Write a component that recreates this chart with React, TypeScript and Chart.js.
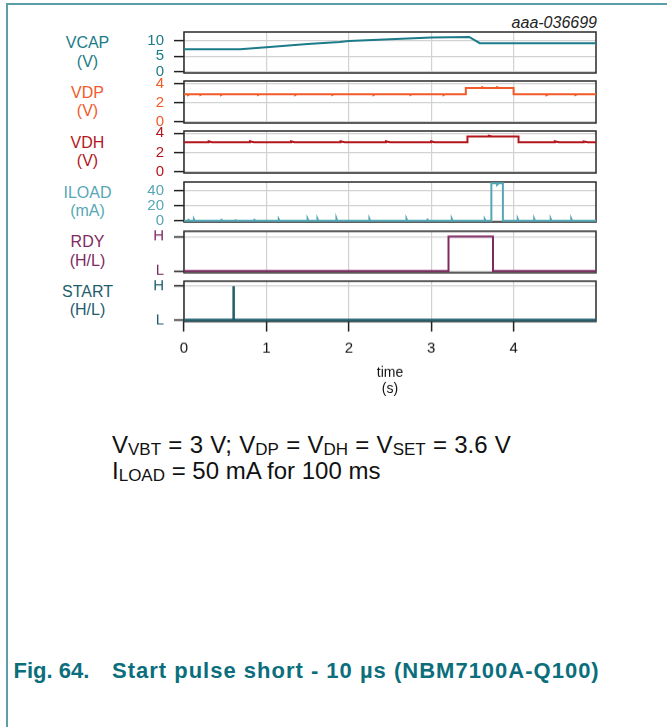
import React, { useEffect, useRef } from "react";
import { Chart, registerables } from "chart.js";

Chart.register(...registerables);

type Pt = [number, number];

// ---- data (time in s) ----
const timeTicks = [0, 1, 2, 3, 4];
const timeMin = 0;
const timeMax = 5;

const vcapPoints: Pt[] = [
  [0, 7.2], [0.68, 7.2], [1.0, 7.85], [1.5, 8.9], [1.89, 9.6], [2.0, 9.9],
  [2.5, 10.5], [3.0, 11.0], [3.46, 11.2], [3.59, 9.2], [4.3, 9.2], [5.0, 9.2],
];
const vcapTicks = [0, 5, 10];
const vcapTickLabels = ["0", "5", "10"];

const vdpPoints: Pt[] = [
  [0, 2.92], [0.05, 2.92], [0.05, 2.82], [0.07, 2.92], [0.2, 2.92], [0.2, 2.84], [0.22, 2.92],
  [0.45, 2.92], [0.45, 2.83], [0.47, 2.92], [0.9, 2.92], [0.9, 2.84], [0.92, 2.92],
  [1.35, 2.92], [1.35, 2.83], [1.37, 2.92], [1.8, 2.92], [1.8, 2.84], [1.82, 2.92],
  [2.3, 2.92], [2.3, 2.83], [2.32, 2.92], [2.75, 2.92], [2.75, 2.84], [2.77, 2.92],
  [3.15, 2.92], [3.15, 2.83], [3.17, 2.92], [3.42, 2.92], [3.42, 3.58], [3.62, 3.58],
  [3.62, 3.66], [3.64, 3.58], [3.8, 3.58], [3.8, 3.65], [3.82, 3.58], [4.0, 3.58],
  [4.0, 2.9], [4.4, 2.9], [4.4, 2.82], [4.42, 2.9], [4.75, 2.9], [4.75, 2.83], [4.77, 2.9], [5.0, 2.9],
];
const vdpTicks = [0, 2, 4];
const vdpTickLabels = ["0", "2", "4"];

const vdhPoints: Pt[] = [
  [0, 3.07], [0.3, 3.07], [0.3, 3.18], [0.34, 3.07], [0.8, 3.07], [0.8, 3.17], [0.85, 3.07],
  [1.3, 3.07], [1.3, 3.18], [1.34, 3.07], [1.9, 3.07], [1.9, 3.17], [1.95, 3.07],
  [2.45, 3.07], [2.45, 3.18], [2.5, 3.07], [3.0, 3.07], [3.0, 3.17], [3.04, 3.07],
  [3.44, 3.07], [3.44, 3.68], [3.7, 3.68], [3.7, 3.75], [3.74, 3.68], [4.06, 3.68],
  [4.06, 3.07], [4.5, 3.07], [4.5, 3.17], [4.55, 3.07], [4.85, 3.07], [4.85, 3.16], [4.9, 3.07], [5.0, 3.07],
];
const vdhTicks = [0, 2, 4];
const vdhTickLabels = ["0", "2", "4"];

const iloadPoints: Pt[] = [
  [0, 0], [0.05, 0], [0.05, 2.5], [0.06, 0], [0.12, 0], [0.12, 2], [0.13, 0],
  [0.45, 0], [0.45, 2.5], [0.46, 0], [0.62, 0], [0.62, 2], [0.63, 0],
  [0.85, 0], [0.85, 2.5], [0.86, 0], [1.15, 0], [1.15, 2], [1.16, 0],
  [1.5, 0], [1.5, 2.5], [1.51, 0], [1.62, 0], [1.62, 2.5], [1.63, 0],
  [1.85, 0], [1.85, 3], [1.86, 0], [2.25, 0], [2.25, 2.5], [2.26, 0],
  [2.7, 0], [2.7, 2.5], [2.71, 0], [2.95, 0], [2.95, 3], [2.96, 0],
  [3.25, 0], [3.25, 2.5], [3.26, 0], [3.65, 0], [3.65, 2], [3.66, 0],
  [3.73, 0], [3.73, 50], [3.8, 50], [3.8, 48], [3.82, 50], [3.87, 50], [3.87, 0],
  [4.05, 0], [4.05, 2.5], [4.06, 0], [4.25, 0], [4.25, 2.5], [4.26, 0],
  [4.45, 0], [4.45, 2.5], [4.46, 0], [4.7, 0], [4.7, 2.5], [4.71, 0], [5.0, 0],
];
const iloadTicks = [0, 20, 40];
const iloadTickLabels = ["0", "20", "40"];

const rdyPoints: Pt[] = [
  [0, 0], [3.21, 0], [3.21, 1], [3.75, 1], [3.75, 0], [5.0, 0],
];
const startPoints: Pt[] = [
  [0, 0], [0.6, 0], [0.6, 1], [0.605, 0], [5.0, 0],
];
const logicTicks = [0, 1];
const logicTickLabels = ["L", "H"];

// ---- presentation ----
const FONT = '"Liberation Sans", Arial, Helvetica, sans-serif';
const GRID = "#d2d2d2";

interface PanelDef {
  name: string;
  unit: string;
  color: string;
  labelColor: string;
  top: number;
  height: number;
  min: number;
  max: number;
  ticks: number[];
  tickLabels: string[];
  points: Pt[];
  lineWidth: number;
  bottom?: boolean;
}

const panels: PanelDef[] = [
  { name: "VCAP", unit: "(V)", color: "#1b7b88", labelColor: "#1b7b88", top: 32, height: 41, min: -0.42, max: 12.8, ticks: vcapTicks, tickLabels: vcapTickLabels, points: vcapPoints, lineWidth: 2 },
  { name: "VDP", unit: "(V)", color: "#f15a29", labelColor: "#f15a29", top: 81, height: 42, min: -0.14, max: 4.32, ticks: vdpTicks, tickLabels: vdpTickLabels, points: vdpPoints, lineWidth: 2 },
  { name: "VDH", unit: "(V)", color: "#b3161d", labelColor: "#b3161d", top: 131, height: 42, min: -0.1, max: 4.24, ticks: vdhTicks, tickLabels: vdhTickLabels, points: vdhPoints, lineWidth: 2 },
  { name: "ILOAD", unit: "(mA)", color: "#56a7b6", labelColor: "#56a7b6", top: 182, height: 40, min: -1.7, max: 51.6, ticks: iloadTicks, tickLabels: iloadTickLabels, points: iloadPoints, lineWidth: 2 },
  { name: "RDY", unit: "(H/L)", color: "#7e2a61", labelColor: "#7e2a61", top: 231, height: 41.5, min: -0.052, max: 1.154, ticks: logicTicks, tickLabels: logicTickLabels, points: rdyPoints, lineWidth: 2 },
  { name: "START", unit: "(H/L)", color: "#1f5d6c", labelColor: "#1f5d6c", top: 281, height: 40.5, min: -0.044, max: 1.147, ticks: logicTicks, tickLabels: logicTickLabels, points: startPoints, lineWidth: 2.5, bottom: true },
];

const PAD_TOP = 22;
const X_AXIS_H = 75;

const framePlugin = {
  id: "frame",
  beforeDatasetsDraw(chart: any) {
    const { ctx, chartArea: a } = chart;
    ctx.save();
    ctx.strokeStyle = "#2a2a2a";
    ctx.lineWidth = 1.5;
    ctx.strokeRect(a.left, a.top, a.right - a.left, a.bottom - a.top);
    ctx.restore();
  },
};

function Panel({ def }: { def: PanelDef }) {
  const ref = useRef<HTMLCanvasElement>(null);
  const padBottom = def.bottom ? 4 : 22;
  const canvasH = PAD_TOP + def.height + padBottom + (def.bottom ? X_AXIS_H : 0);

  useEffect(() => {
    const chart = new Chart(ref.current as HTMLCanvasElement, {
      type: "line",
      data: {
        datasets: [
          {
            data: def.points.map(([x, y]) => ({ x, y })),
            borderColor: def.color,
            borderWidth: def.lineWidth,
            pointRadius: 0,
            tension: 0,
            fill: false,
          },
        ],
      },
      options: {
        animation: false,
        responsive: false,
        maintainAspectRatio: false,
        events: [],
        layout: { padding: { left: 0, right: 71, top: PAD_TOP, bottom: padBottom } },
        plugins: { legend: { display: false }, tooltip: { enabled: false }, title: { display: false } },
        scales: {
          x: {
            type: "linear",
            min: timeMin,
            max: timeMax,
            afterBuildTicks: (s: any) => {
              s.ticks = timeTicks.map((v) => ({ value: v }));
            },
            afterFit: (s: any) => {
              s.height = def.bottom ? X_AXIS_H : 0;
            },
            grid: {
              color: GRID,
              lineWidth: 1.2,
              drawTicks: !!def.bottom,
              tickLength: 10,
              tickColor: "#222",
              tickWidth: 1.5,
            },
            border: { display: false },
            ticks: {
              display: !!def.bottom,
              padding: 7.5,
              color: "#111",
              font: { family: FONT, size: 15 },
              maxRotation: 0,
              autoSkip: false,
              callback: (v: any) => String(v),
            },
            title: {
              display: !!def.bottom,
              text: ["time", "(s)"],
              color: "#111",
              font: { family: FONT, size: 14, lineHeight: "16px" },
              padding: { top: 8.5, bottom: 0 },
            },
          },
          y: {
            type: "linear",
            min: def.min,
            max: def.max,
            afterBuildTicks: (s: any) => {
              s.ticks = def.ticks.map((v) => ({ value: v }));
            },
            afterFit: (s: any) => {
              s.width = 184;
            },
            grid: {
              color: GRID,
              lineWidth: 1.2,
              drawTicks: true,
              tickLength: 10,
              tickColor: "#222",
              tickWidth: 1.5,
            },
            border: { display: false },
            ticks: {
              padding: 10,
              color: def.color,
              font: { family: FONT, size: 15 },
              autoSkip: false,
              callback: (_v: any, i: number) => def.tickLabels[i],
            },
          },
        },
      },
      plugins: [framePlugin],
    });
    return () => chart.destroy();
  }, []);

  return (
    <canvas
      ref={ref}
      width={667}
      height={canvasH}
      style={{ position: "absolute", left: 0, top: def.top - PAD_TOP, width: 667, height: canvasH }}
    />
  );
}

const sub = (t: string) => (
  <span style={{ fontSize: 17, verticalAlign: "-2px", lineHeight: 1 }}>{t}</span>
);

export default function App() {
  return (
    <div
      style={{
        position: "absolute",
        left: 0,
        top: 0,
        width: 667,
        height: 727,
        background: "#fff",
        overflow: "hidden",
        fontFamily: FONT,
      }}
    >
      <div style={{ position: "absolute", left: 6, top: 3, width: 661, height: 2, background: "#5b9ea8" }} />
      <div style={{ position: "absolute", left: 6, top: 3, width: 2, height: 724, background: "#5b9ea8" }} />
      <div
        style={{
          position: "absolute",
          right: 70,
          top: 14.5,
          fontSize: 16,
          lineHeight: "16px",
          fontStyle: "italic",
          color: "#222",
          whiteSpace: "nowrap",
        }}
      >
        aaa-036699
      </div>

      {panels.map((p) => (
        <div
          key={p.name + "-label"}
          style={{
            position: "absolute",
            left: 37,
            width: 101,
            top: p.top + p.height / 2 - 18.5,
            textAlign: "center",
            fontSize: 16,
            lineHeight: "18.5px",
            color: p.labelColor,
          }}
        >
          <div>{p.name}</div>
          <div>{p.unit}</div>
        </div>
      ))}

      {panels.map((p) => (
        <Panel key={p.name} def={p} />
      ))}

      <div style={{ position: "absolute", left: 112, top: 433, fontSize: 24, lineHeight: "24px", wordSpacing: "0.6px", color: "#111", whiteSpace: "nowrap" }}>
        V{sub("VBT")} = 3 V; V{sub("DP")} = V{sub("DH")} = V{sub("SET")} = 3.6 V
      </div>
      <div style={{ position: "absolute", left: 112, top: 458.7, fontSize: 24, lineHeight: "24px", color: "#111", whiteSpace: "nowrap" }}>
        I{sub("LOAD")} = 50 mA for 100 ms
      </div>

      <div style={{ position: "absolute", left: 13.5, top: 660, fontSize: 22, lineHeight: "22px", fontWeight: "bold", color: "#0b6e7c", whiteSpace: "nowrap" }}>
        Fig. 64.
      </div>
      <div style={{ position: "absolute", left: 112, top: 660, fontSize: 22, lineHeight: "22px", fontWeight: "bold", letterSpacing: "1px", color: "#0b6e7c", whiteSpace: "nowrap" }}>
        Start pulse short - 10 µs (NBM7100A-Q100)
      </div>
    </div>
  );
}
